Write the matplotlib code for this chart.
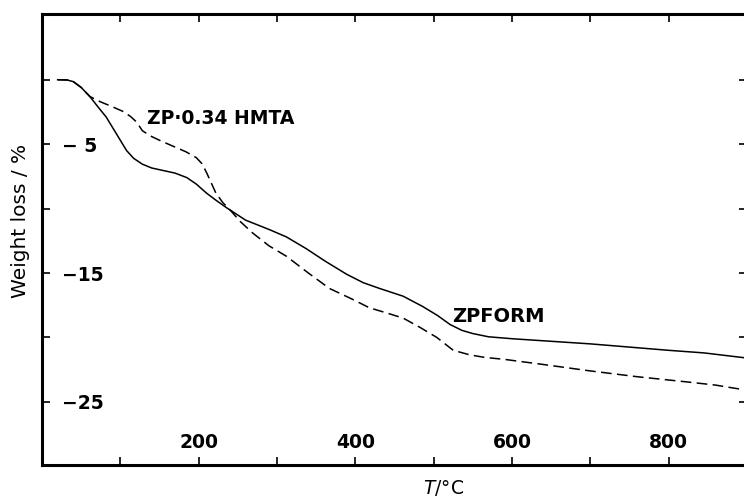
import matplotlib
matplotlib.use("Agg")
import matplotlib.pyplot as plt

# ZPFORM (solid)
tempForm = [20, 32, 40, 50, 61, 72, 82, 90, 99, 108, 117, 128, 140, 155, 170, 185, 197, 210, 222, 236,
            260, 291, 312, 337, 362, 389, 410, 431, 461, 486, 505, 521, 536, 550, 570, 600, 650, 700,
            760, 800, 845, 900]
lossForm = [0, -0.02, -0.15, -0.6, -1.3, -2.15, -2.9, -3.7, -4.6, -5.5, -6.1, -6.55, -6.85, -7.05, -7.25,
            -7.6, -8.1, -8.8, -9.35, -9.95, -10.9, -11.65, -12.2, -13.1, -14.1, -15.1, -15.75, -16.2,
            -16.8, -17.6, -18.3, -19.0, -19.45, -19.7, -19.95, -20.1, -20.3, -20.5, -20.8, -21.0, -21.2,
            -21.6]

# ZP.0.34 HMTA (dashed)
tempHmta = [20, 32, 40, 50, 61, 74, 88, 103, 113, 121, 128, 138, 150, 165, 184, 197, 204, 210, 216, 222,
            231, 240, 253, 269, 290, 312, 340, 367, 395, 418, 440, 461, 482, 504, 525, 546, 565, 590,
            640, 700, 760, 823, 860, 900]
lossHmta = [0, -0.02, -0.15, -0.6, -1.3, -1.7, -2.05, -2.45, -2.85, -3.3, -3.95, -4.35, -4.7, -5.1, -5.6,
            -6.05, -6.5, -7.2, -8.0, -8.8, -9.55, -10.1, -11.0, -11.9, -12.9, -13.7, -15.0, -16.2, -17.0,
            -17.7, -18.1, -18.5, -19.2, -20.0, -21.0, -21.35, -21.55, -21.7, -22.1, -22.6, -23.05,
            -23.45, -23.7, -24.1]

xTicks = [100, 200, 300, 400, 500, 600, 700, 800, 900]
xLabels = ["", "200", "", "400", "", "600", "", "800", ""]
yTicks = [0, -5, -10, -15, -20, -25]
yLabels = ["", "\u2212 5", "", "\u221215", "", "\u221225"]


def Main():
    fig = plt.figure(figsize=(7.44, 4.97), dpi=100)
    ax = fig.add_axes([42 / 744, 32 / 497, 705 / 744, 451 / 497])

    ax.plot(tempForm, lossForm, color="black", linewidth=1.1)
    ax.plot(tempHmta, lossHmta, color="black", linewidth=1.1, linestyle=(0, (7, 3.5)))

    ax.set_xlim(0, 900)
    ax.set_ylim(-29.9, 5.1)

    for side in ["left", "right", "top", "bottom"]:
        ax.spines[side].set_linewidth(2.2)

    ax.set_xticks(xTicks, labels=xLabels)
    ax.set_yticks(yTicks, labels=yLabels)
    ax.tick_params(direction="in", top=True, right=True, length=6, width=1.2)
    ax.tick_params(axis="x", pad=-12.2, labelsize=13.5)
    ax.tick_params(axis="y", pad=-14.4, labelsize=13.5)
    for lbl in ax.get_xticklabels():
        lbl.set_fontweight("bold")
        lbl.set_va("baseline")
    for lbl in ax.get_yticklabels():
        lbl.set_fontweight("bold")
        lbl.set_ha("left")

    ax.set_ylabel("Weight loss / %", fontsize=14.5)
    ax.yaxis.set_label_coords(-0.0177, 0.541)
    ax.set_xlabel("$T$/°C", fontsize=13.5)
    ax.xaxis.set_label_coords(0.570, -0.0288)

    ax.text(134, -3.44, "ZP\u00b70.34 HMTA", fontsize=13.5, fontweight="bold", va="baseline")
    ax.text(524, -18.78, "ZPFORM", fontsize=14, fontweight="bold", va="baseline")

    fig.savefig("out.png", dpi=100)


Main()
